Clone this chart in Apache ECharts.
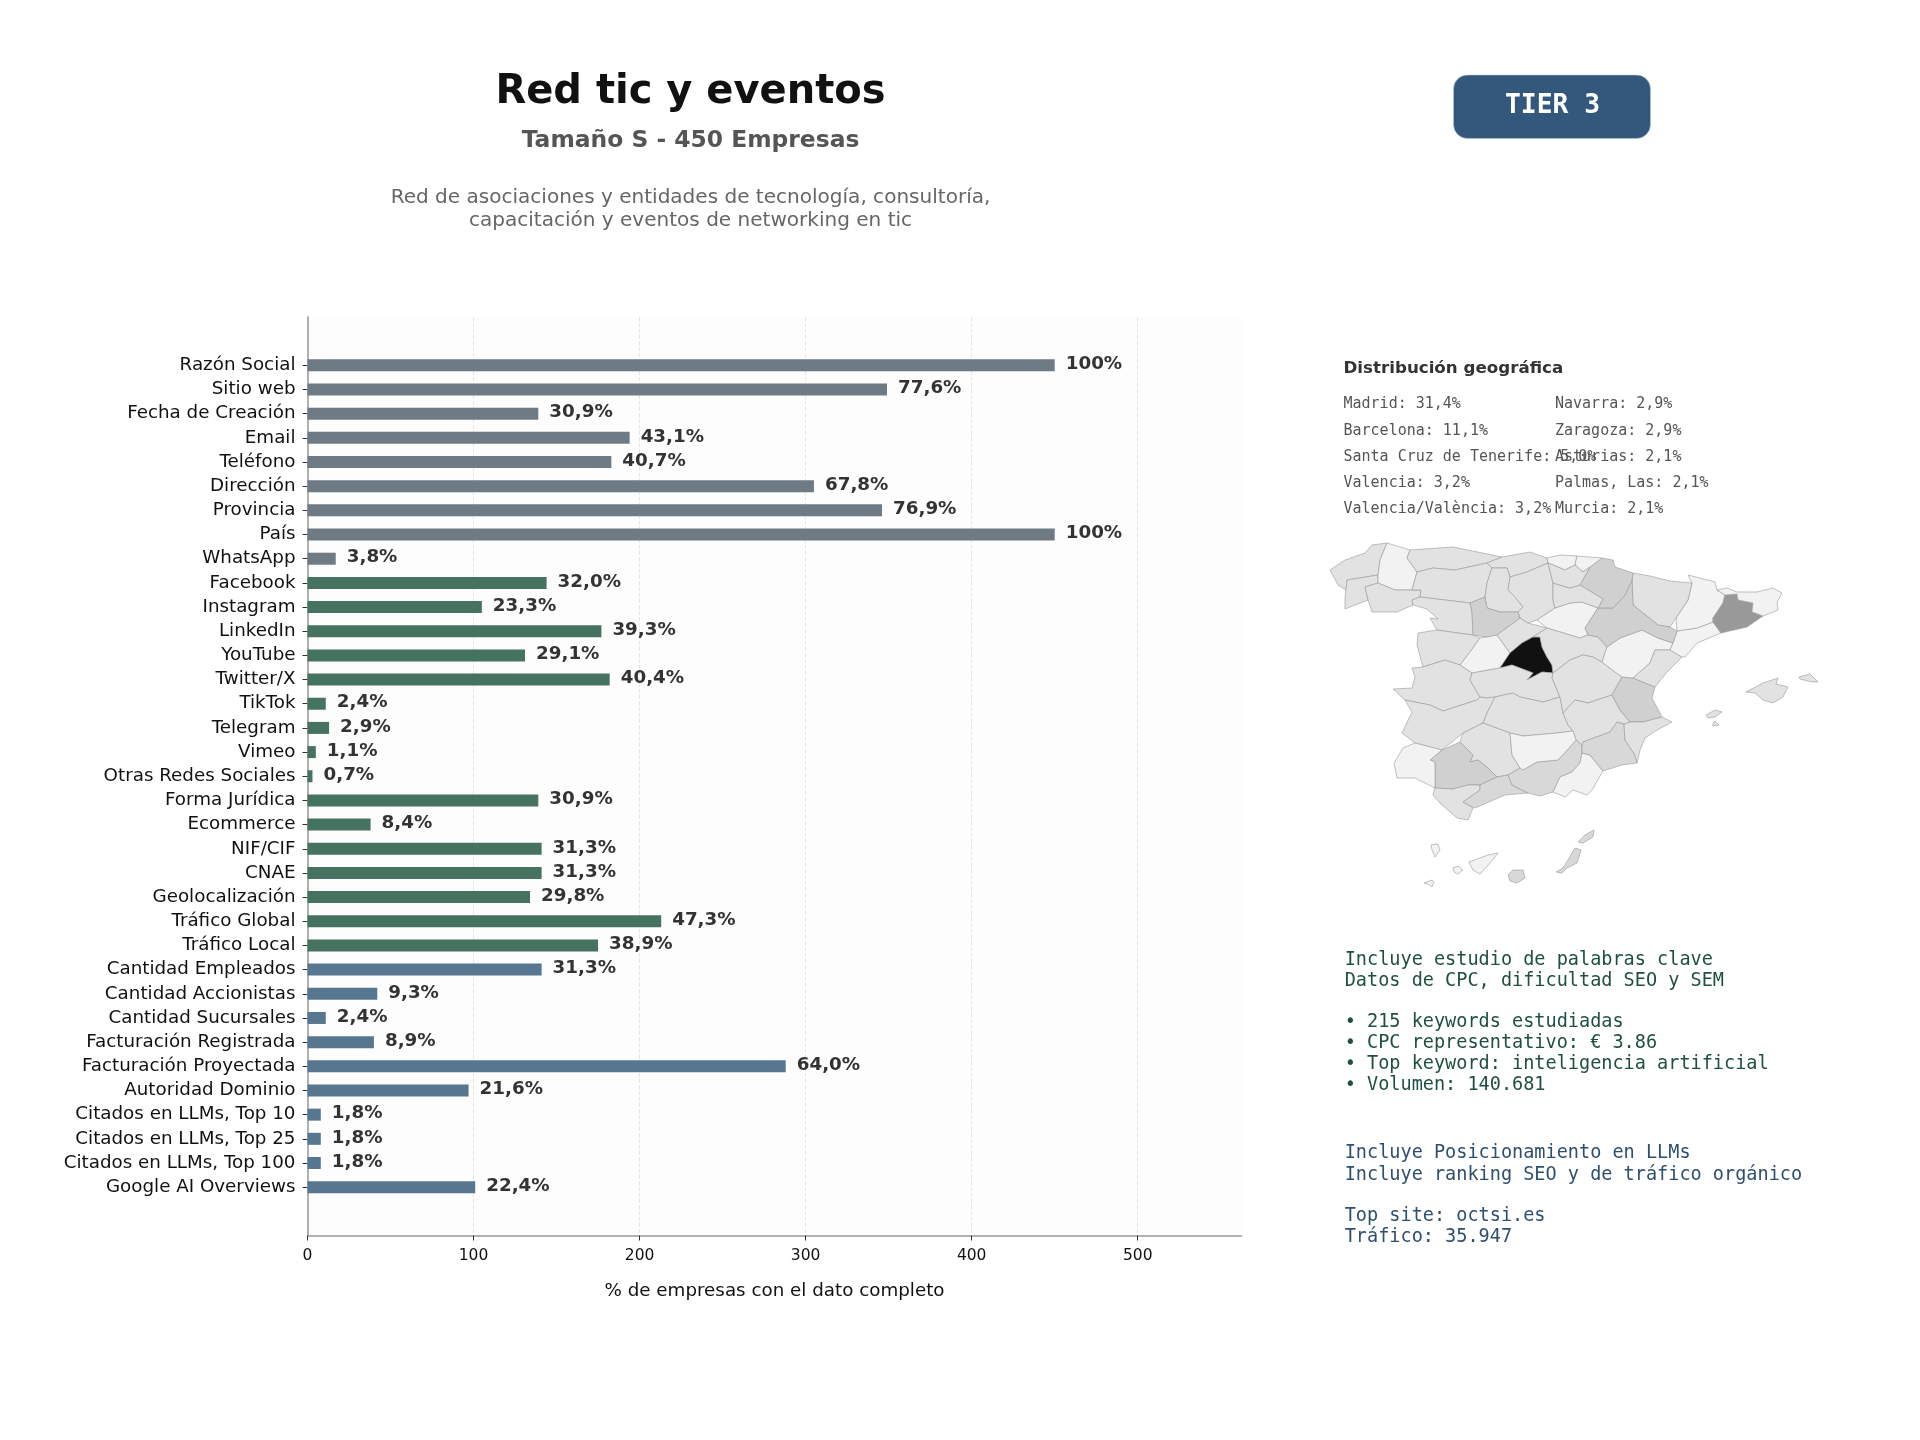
<!DOCTYPE html>
<html>
<head>
<meta charset="utf-8">
<script src="https://cdn.jsdelivr.net/npm/echarts@6/dist/echarts.min.js"></script>
<style>
  html, body { margin: 0; background: #fff; }
  #chart { width: 1920px; height: 1440px; }
</style>
</head>
<body>
<div id="chart"></div>
<script>
const SANS = '"DejaVu Sans"';
const MONO = '"DejaVu Sans Mono"';

const categories = [
  'Razón Social', 'Sitio web', 'Fecha de Creación', 'Email', 'Teléfono', 'Dirección', 'Provincia', 'País', 'WhatsApp',
  'Facebook', 'Instagram', 'LinkedIn', 'YouTube', 'Twitter/X', 'TikTok', 'Telegram', 'Vimeo', 'Otras Redes Sociales',
  'Forma Jurídica', 'Ecommerce', 'NIF/CIF', 'CNAE', 'Geolocalización', 'Tráfico Global', 'Tráfico Local',
  'Cantidad Empleados', 'Cantidad Accionistas', 'Cantidad Sucursales', 'Facturación Registrada', 'Facturación Proyectada',
  'Autoridad Dominio', 'Citados en LLMs, Top 10', 'Citados en LLMs, Top 25', 'Citados en LLMs, Top 100', 'Google AI Overviews',
];
const companyCounts = [
  450, 349, 139, 194, 183, 305, 346, 450, 17,
  144, 105, 177, 131, 182, 11, 13, 5, 3,
  139, 38, 141, 141, 134, 213, 175,
  141, 42, 11, 40, 288,
  97, 8, 8, 8, 101,
];
const percentLabels = [
  '100%', '77,6%', '30,9%', '43,1%', '40,7%', '67,8%', '76,9%', '100%', '3,8%',
  '32,0%', '23,3%', '39,3%', '29,1%', '40,4%', '2,4%', '2,9%', '1,1%', '0,7%',
  '30,9%', '8,4%', '31,3%', '31,3%', '29,8%', '47,3%', '38,9%',
  '31,3%', '9,3%', '2,4%', '8,9%', '64,0%',
  '21,6%', '1,8%', '1,8%', '1,8%', '22,4%',
];
const groupSizes = [9, 16, 10];
const groupColors = ['#6e7a84', '#46735f', '#57768f'];
const xTicks = [0, 100, 200, 300, 400, 500];

const geoColumnLeft = [
  'Madrid: 31,4%', 'Barcelona: 11,1%', 'Santa Cruz de Tenerife: 5,0%', 'Valencia: 3,2%', 'Valencia/València: 3,2%',
];
const geoColumnRight = [
  'Navarra: 2,9%', 'Zaragoza: 2,9%', 'Asturias: 2,1%', 'Palmas, Las: 2,1%', 'Murcia: 2,1%',
];
const keywordLines = [
  ['Incluye estudio de palabras clave', 960.5], ['Datos de CPC, dificultad SEO y SEM', 981.5],
  ['• 215 keywords estudiadas', 1022.5], ['• CPC representativo: € 3.86', 1043.5],
  ['• Top keyword: inteligencia artificial', 1064.5], ['• Volumen: 140.681', 1085.5],
];
const llmLines = [
  ['Incluye Posicionamiento en LLMs', 1153], ['Incluye ranking SEO y de tráfico orgánico', 1175],
  ['Top site: octsi.es', 1216.5], ['Tráfico: 35.947', 1237.5],
];

// grey level of each province, estimated from the tone in the picture
const provinceShades = {
  Madrid: 31.4, Barcelona: 11.1,
  Valencia: 3.2, Navarra: 2.9, Zaragoza: 2.9, Valladolid: 2.9, Sevilla: 2.9, Murcia: 2.1, 'Las Palmas': 2.1,
  Granada: 1.8, Malaga: 1.8,
  Coruna: 1, Pontevedra: 1, Ourense: 1, Leon: 1, Asturias: 1, Cantabria: 1, Palencia: 1, Burgos: 1, Zamora: 1,
  Salamanca: 1, Segovia: 1, Guadalajara: 1, Caceres: 1, Toledo: 1, Badajoz: 1, CiudadReal: 1, Cuenca: 1, Albacete: 1,
  Castellon: 1, Huesca: 1, Rioja: 1, Alava: 1, Cordoba: 1, Cadiz: 1, Alicante: 1, Baleares: 1,
  Lugo: 0.4, Avila: 0.4, Soria: 0.4, Teruel: 0.4, Tarragona: 0.4, Lleida: 0.4, Girona: 0.4, Jaen: 0.4, Almeria: 0.4,
  Huelva: 0.4, 'Santa Cruz': 0.4, Vizcaya: 0.4, Gipuzkoa: 0.4,
};

// province outlines, needed because no Spain map ships with the library
const provinceOutlines = {
  Coruna: [[[1330, 570], [1345, 560], [1365, 553], [1372, 545], [1387, 543], [1380, 560], [1378, 575], [1347, 580], [1346, 590], [1338, 585]]],
  Pontevedra: [[[1347, 580], [1378, 575], [1378, 583], [1365, 587], [1368, 600], [1345, 609], [1345, 597], [1346, 590]]],
  Lugo: [[[1387, 543], [1410, 550], [1407, 558], [1417, 572], [1412, 590], [1395, 590], [1378, 583], [1378, 575], [1380, 560]]],
  Asturias: [[[1410, 550], [1453, 547], [1502, 557], [1487, 563], [1455, 570], [1433, 568], [1417, 572], [1407, 558]]],
  Cantabria: [[[1502, 557], [1530, 552], [1547, 558], [1548, 563], [1527, 572], [1510, 577], [1507, 568], [1492, 568], [1487, 563]]],
  Ourense: [[[1365, 587], [1378, 583], [1395, 590], [1412, 590], [1421, 590], [1420, 597], [1412, 600], [1413, 605], [1397, 612], [1372, 612], [1368, 600]]],
  Leon: [[[1417, 572], [1433, 568], [1455, 570], [1487, 563], [1492, 568], [1487, 583], [1485, 597], [1470, 603], [1445, 600], [1420, 597], [1421, 590], [1412, 590]]],
  Palencia: [[[1492, 568], [1507, 568], [1510, 577], [1508, 590], [1515, 597], [1523, 607], [1518, 612], [1500, 612], [1487, 608], [1485, 597], [1487, 583]]],
  Burgos: [[[1510, 577], [1527, 572], [1548, 563], [1553, 583], [1553, 600], [1555, 608], [1537, 620], [1528, 623], [1520, 618], [1518, 612], [1523, 607], [1515, 597], [1508, 590]]],
  Zamora: [[[1412, 600], [1420, 597], [1445, 600], [1470, 603], [1472, 612], [1473, 635], [1458, 633], [1437, 630], [1430, 618], [1438, 619], [1427, 609], [1413, 605]]],
  Valladolid: [[[1470, 603], [1485, 597], [1487, 608], [1500, 612], [1518, 612], [1520, 618], [1497, 635], [1487, 637], [1473, 635], [1472, 612]]],
  Salamanca: [[[1418, 633], [1437, 630], [1458, 633], [1473, 635], [1480, 638], [1470, 652], [1460, 665], [1445, 660], [1423, 667], [1417, 645]]],
  Avila: [[[1480, 638], [1487, 637], [1497, 635], [1510, 653], [1500, 668], [1472, 673], [1460, 665], [1470, 652]]],
  Segovia: [[[1497, 635], [1520, 618], [1528, 623], [1547, 628], [1533, 637], [1522, 643], [1510, 653]]],
  Madrid: [[[1533, 637], [1540, 637], [1542, 647], [1547, 657], [1552, 665], [1553, 673], [1542, 672], [1527, 680], [1533, 673], [1512, 665], [1500, 668], [1510, 653], [1522, 643]]],
  Soria: [[[1555, 608], [1570, 603], [1582, 602], [1598, 608], [1585, 628], [1588, 635], [1580, 638], [1570, 635], [1547, 628], [1537, 620]]],
  Guadalajara: [[[1547, 628], [1570, 635], [1580, 638], [1588, 635], [1598, 637], [1607, 647], [1602, 662], [1593, 657], [1583, 655], [1570, 660], [1553, 673], [1552, 665], [1547, 657], [1542, 647], [1540, 637], [1533, 637]]],
  Caceres: [[[1412, 668], [1423, 667], [1445, 660], [1460, 665], [1472, 673], [1470, 680], [1480, 697], [1477, 700], [1443, 711], [1430, 705], [1405, 700], [1393, 689], [1412, 688], [1415, 677]]],
  Toledo: [[[1472, 673], [1500, 668], [1512, 665], [1533, 673], [1527, 680], [1542, 672], [1553, 673], [1552, 678], [1560, 697], [1543, 702], [1520, 697], [1513, 693], [1495, 697], [1487, 698], [1480, 697], [1470, 680]]],
  Badajoz: [[[1405, 700], [1430, 705], [1443, 711], [1477, 700], [1480, 697], [1487, 698], [1495, 697], [1487, 713], [1483, 723], [1463, 733], [1442, 750], [1415, 743], [1402, 733], [1412, 712]]],
  CiudadReal: [[[1495, 697], [1513, 693], [1520, 697], [1543, 702], [1560, 697], [1563, 713], [1568, 725], [1573, 731], [1557, 733], [1523, 736], [1510, 733], [1483, 723], [1487, 713]]],
  Cuenca: [[[1570, 660], [1583, 655], [1593, 657], [1602, 662], [1615, 672], [1622, 677], [1612, 695], [1588, 703], [1575, 700], [1563, 713], [1560, 697], [1552, 678], [1553, 673]]],
  Albacete: [[[1563, 713], [1575, 700], [1588, 703], [1612, 695], [1620, 710], [1630, 722], [1624, 724], [1617, 722], [1610, 732], [1583, 742], [1582, 745], [1576, 740], [1573, 731], [1568, 725]]],
  Valencia: [[[1622, 677], [1633, 678], [1655, 687], [1652, 698], [1662, 717], [1643, 722], [1630, 722], [1620, 710], [1612, 695]]],
  Teruel: [[[1607, 647], [1620, 638], [1642, 630], [1658, 638], [1673, 643], [1670, 650], [1655, 650], [1650, 663], [1633, 678], [1622, 677], [1615, 672], [1602, 662]]],
  Castellon: [[[1655, 650], [1670, 650], [1682, 657], [1667, 672], [1655, 687], [1633, 678], [1650, 663]]],
  Tarragona: [[[1677, 631], [1697, 628], [1713, 622], [1721, 633], [1697, 643], [1685, 657], [1682, 657], [1670, 650], [1673, 643]]],
  Lleida: [[[1688, 575], [1715, 582], [1717, 590], [1725, 595], [1723, 603], [1713, 618], [1713, 622], [1697, 628], [1677, 631], [1676, 618], [1688, 600], [1692, 583]]],
  Barcelona: [[[1725, 595], [1737, 594], [1738, 600], [1753, 603], [1752, 612], [1763, 616], [1747, 627], [1721, 633], [1713, 622], [1713, 618], [1723, 603]]],
  Girona: [[[1717, 590], [1727, 588], [1737, 592], [1757, 592], [1773, 588], [1782, 593], [1777, 602], [1778, 610], [1763, 616], [1752, 612], [1753, 603], [1738, 600], [1737, 594], [1725, 595]]],
  Huesca: [[[1633, 573], [1650, 576], [1670, 581], [1692, 583], [1688, 600], [1676, 618], [1670, 627], [1658, 625], [1633, 605], [1632, 580]]],
  Zaragoza: [[[1632, 580], [1633, 605], [1658, 625], [1670, 627], [1677, 631], [1673, 643], [1658, 638], [1642, 630], [1620, 638], [1607, 647], [1598, 637], [1588, 635], [1585, 628], [1598, 608], [1613, 608], [1625, 595]]],
  Navarra: [[[1602, 558], [1613, 560], [1615, 567], [1633, 573], [1632, 580], [1625, 595], [1613, 608], [1598, 608], [1603, 599], [1580, 585], [1590, 567]]],
  Rioja: [[[1553, 583], [1570, 588], [1580, 585], [1603, 599], [1598, 608], [1582, 602], [1570, 603], [1555, 608], [1553, 600]]],
  Vizcaya: [[[1547, 558], [1560, 555], [1577, 556], [1575, 565], [1565, 570], [1553, 565], [1548, 563]]],
  Gipuzkoa: [[[1577, 556], [1602, 558], [1590, 567], [1583, 572], [1575, 565]]],
  Alava: [[[1548, 563], [1553, 565], [1565, 570], [1575, 565], [1583, 572], [1590, 567], [1580, 585], [1570, 588], [1553, 583]]],
  Cordoba: [[[1483, 723], [1510, 733], [1512, 755], [1520, 768], [1508, 775], [1497, 777], [1487, 767], [1478, 760], [1470, 762], [1473, 755], [1460, 742], [1463, 733]]],
  Sevilla: [[[1442, 750], [1460, 742], [1473, 755], [1470, 762], [1478, 760], [1487, 767], [1497, 777], [1480, 785], [1468, 785], [1453, 789], [1435, 788], [1435, 762], [1430, 760]]],
  Huelva: [[[1415, 743], [1442, 750], [1430, 760], [1435, 762], [1435, 788], [1415, 778], [1397, 778], [1394, 763], [1403, 748]]],
  Cadiz: [[[1435, 788], [1453, 789], [1468, 785], [1480, 785], [1480, 790], [1463, 802], [1473, 808], [1468, 820], [1457, 818], [1440, 803], [1433, 795]]],
  Malaga: [[[1480, 785], [1497, 777], [1508, 775], [1512, 785], [1528, 793], [1505, 795], [1475, 808], [1463, 802], [1480, 790]]],
  Granada: [[[1520, 768], [1523, 770], [1537, 762], [1558, 760], [1570, 747], [1576, 740], [1582, 745], [1582, 753], [1580, 763], [1572, 772], [1560, 777], [1553, 792], [1540, 796], [1528, 793], [1512, 785], [1508, 775]]],
  Jaen: [[[1510, 733], [1523, 736], [1557, 733], [1573, 731], [1576, 740], [1570, 747], [1558, 760], [1537, 762], [1523, 770], [1520, 768], [1512, 755]]],
  Almeria: [[[1582, 753], [1590, 755], [1603, 771], [1592, 790], [1587, 795], [1573, 790], [1565, 797], [1553, 792], [1560, 777], [1572, 772], [1580, 763]]],
  Murcia: [[[1582, 745], [1583, 742], [1610, 732], [1617, 722], [1624, 724], [1625, 740], [1635, 755], [1637, 763], [1622, 765], [1603, 771], [1590, 755], [1582, 753]]],
  Alicante: [[[1630, 722], [1643, 722], [1662, 717], [1672, 722], [1657, 730], [1645, 738], [1640, 750], [1637, 763], [1635, 755], [1625, 740], [1624, 724]]],
  Baleares: [
    [[1746, 692], [1763, 683], [1778, 678], [1776, 684], [1788, 687], [1783, 697], [1773, 703], [1763, 700], [1755, 693]],
    [[1799, 677], [1810, 674], [1818, 682], [1812, 682], [1800, 679]],
    [[1706, 715], [1715, 710], [1722, 712], [1715, 717], [1708, 718]],
    [[1713, 723], [1715, 721], [1719, 725], [1713, 726]],
  ],
  'Las Palmas': [
    [[1578, 842], [1585, 835], [1594, 830], [1593, 837], [1583, 843]],
    [[1556, 872], [1563, 868], [1568, 860], [1575, 848], [1581, 850], [1577, 863], [1567, 868], [1562, 873]],
    [[1508, 875], [1513, 870], [1523, 870], [1525, 878], [1517, 883], [1510, 881]],
  ],
  'Santa Cruz': [
    [[1469, 862], [1488, 855], [1498, 853], [1490, 863], [1480, 874], [1473, 870]],
    [[1453, 868], [1458, 866], [1463, 870], [1458, 874], [1454, 872]],
    [[1431, 845], [1438, 844], [1440, 850], [1435, 857], [1432, 850]],
    [[1424, 883], [1432, 880], [1434, 882], [1432, 887], [1428, 884]],
  ],
};

const provinceFeatures = Object.keys(provinceOutlines).map(name => ({
  type: 'Feature',
  properties: { name },
  geometry: {
    type: 'MultiPolygon',
    coordinates: provinceOutlines[name].map(ring => [ring.map(([x, y]) => [x, -y])]),
  },
}));
echarts.registerMap('spain', { type: 'FeatureCollection', features: provinceFeatures });

const barColor = (index) => {
  let limit = 0;
  for (let g = 0; g < groupSizes.length; g += 1) {
    limit += groupSizes[g];
    if (index < limit) return groupColors[g];
  }
  return groupColors[0];
};

// two empty slots above and below keep the bars away from the ends of the axis
const axisCategories = ['', ' ', ...categories, '  ', '   '];
const isRealCategory = (index, name) => name.trim() !== '';
const barData = [null, null, ...companyCounts.map((value, i) => ({
  value,
  itemStyle: { color: barColor(i) },
  label: { formatter: percentLabels[i] },
})), null, null];

const textEl = (text, x, y, font, fill, textAlign = 'left') => ({
  type: 'text',
  silent: true,
  style: {
    x, y, text, font, fill, textAlign, textVerticalAlign: 'middle',
  },
});

const graphicEls = [
  textEl('Red tic y eventos', 690.5, 92.5, `bold 40px ${SANS}`, '#111111', 'center'),
  textEl('Tamaño S - 450 Empresas', 690.5, 141, `bold 23.4px ${SANS}`, '#555555', 'center'),
  textEl('Red de asociaciones y entidades de tecnología, consultoría,', 690.5, 198, `20.05px ${SANS}`, '#666666', 'center'),
  textEl('capacitación y eventos de networking en tic', 690.5, 221, `20.05px ${SANS}`, '#666666', 'center'),
  {
    type: 'rect',
    silent: true,
    shape: {
      x: 1453.5, y: 75, width: 197, height: 63.5, r: 14,
    },
    style: { fill: '#34587c', stroke: '#b9d0e0', lineWidth: 0.5 },
  },
  textEl('TIER 3', 1552.5, 106, `bold 26.3px ${MONO}`, '#ffffff', 'center'),
  textEl('Distribución geográfica', 1343.5, 368.5, `bold 16.7px ${SANS}`, '#333333'),
];
const geoRowY = [404, 431, 457, 483, 509];
geoColumnLeft.forEach((line, i) => graphicEls.push(textEl(line, 1343.5, geoRowY[i], `15px ${MONO}`, '#555555')));
geoColumnRight.forEach((line, i) => graphicEls.push(textEl(line, 1555, geoRowY[i], `15px ${MONO}`, '#555555')));
keywordLines.forEach(([line, y]) => graphicEls.push(textEl(line, 1344.7, y, `18.55px ${MONO}`, '#1f4f43')));
llmLines.forEach(([line, y]) => graphicEls.push(textEl(line, 1344.7, y, `18.55px ${MONO}`, '#2f4f6f')));

const chart = echarts.init(document.getElementById('chart'), null, { renderer: 'canvas' });
chart.setOption({
  animation: false,
  backgroundColor: '#ffffff',
  grid: {
    left: 307.5,
    top: 317,
    width: 934,
    height: 918.5,
    show: true,
    backgroundColor: '#fdfdfd',
    borderWidth: 0,
    containLabel: false,
  },
  xAxis: {
    type: 'value',
    min: 0,
    max: 562.5,
    interval: 100,
    name: '% de empresas con el dato completo',
    nameLocation: 'middle',
    nameGap: 47,
    nameTextStyle: { fontFamily: SANS, fontSize: 18.3, color: '#111111' },
    axisLine: { show: true, lineStyle: { color: '#999999', width: 1.5 } },
    axisTick: { show: true, length: 5, lineStyle: { color: '#333333', width: 1 }, customValues: xTicks },
    axisLabel: { fontFamily: SANS, fontSize: 15.5, color: '#111111', margin: 12.5, customValues: xTicks },
    splitLine: { show: true, lineStyle: { color: '#e6e6e6', type: 'dashed', width: 1 } },
  },
  yAxis: {
    type: 'category',
    inverse: true,
    boundaryGap: false,
    data: axisCategories,
    axisLine: { show: true, lineStyle: { color: '#999999', width: 1.5 } },
    axisTick: { show: true, length: 5, lineStyle: { color: '#333333', width: 1 }, interval: isRealCategory },
    axisLabel: {
      fontFamily: SANS, fontSize: 18.3, color: '#111111', margin: 12, interval: isRealCategory, padding: [3, 0, 0, 0],
    },
    splitLine: { show: false },
  },
  visualMap: {
    show: false,
    seriesIndex: 1,
    type: 'piecewise',
    pieces: [
      { min: 20, color: '#111111' },
      { min: 8, max: 20, color: '#999999' },
      { min: 2.5, max: 8, color: '#d0d0d0' },
      { min: 1.5, max: 2.5, color: '#d8d8d8' },
      { min: 0.8, max: 1.5, color: '#e2e2e2' },
      { max: 0.8, color: '#f2f2f2' },
    ],
  },
  series: [
    {
      type: 'bar',
      data: barData,
      barWidth: 12,
      silent: true,
      label: {
        show: true,
        position: 'right',
        distance: 11,
        offset: [0, -1],
        fontFamily: SANS,
        fontWeight: 'bold',
        fontSize: 18.3,
        color: '#333333',
      },
    },
    {
      type: 'map',
      map: 'spain',
      silent: true,
      aspectScale: 1,
      left: 1330,
      top: 543,
      width: 488,
      height: 344,
      label: { show: false },
      itemStyle: { borderColor: '#999999', borderWidth: 0.6 },
      data: Object.keys(provinceShades).map(name => ({ name, value: provinceShades[name] })),
    },
  ],
  graphic: { elements: graphicEls },
});
</script>
</body>
</html>
